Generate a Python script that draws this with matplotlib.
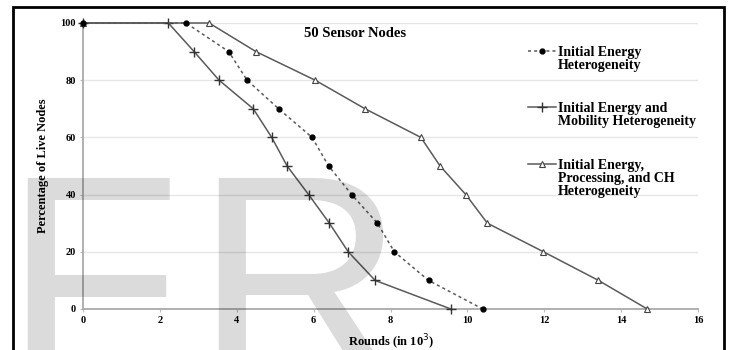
import matplotlib
matplotlib.use("Agg")
import matplotlib.pyplot as plt
from matplotlib.patches import Rectangle

plt.rcParams['font.family'] = ['Liberation Serif', 'DejaVu Serif']

# Data (rounds in 10^3, % live nodes)
pct = [100, 100, 90, 80, 70, 60, 50, 40, 30, 20, 10, 0]

rounds_energy = [0, 2.68, 3.79, 4.27, 5.09, 5.96, 6.39, 6.99, 7.66, 8.10, 8.99, 10.40]
rounds_mobility = [0, 2.22, 2.89, 3.54, 4.43, 4.91, 5.31, 5.87, 6.41, 6.90, 7.60, 9.57]
rounds_processing = [0, 3.28, 4.50, 6.04, 7.34, 8.79, 9.29, 9.96, 10.52, 11.98, 13.41, 14.68]

labels = ["Initial Energy\nHeterogeneity",
          "Initial Energy and\nMobility Heterogeneity",
          "Initial Energy,\nProcessing, and CH\nHeterogeneity"]

xticks = [0, 2, 4, 6, 8, 10, 12, 14, 16]
yticks = [0, 20, 40, 60, 80, 100]

W, H = 730, 350
fig = plt.figure(figsize=(7.3, 3.5), dpi=100)
ax = fig.add_axes([83 / W, 1 - 309 / H, 615 / W, 286 / H])

line_col = '#5a5a5a'
ax.plot(rounds_energy, pct, linestyle=(0, (2, 2)), color=line_col, lw=1.1,
        marker='o', ms=3.5, mfc='black', mec='black', clip_on=False,
        label=labels[0], zorder=6)
ax.plot(rounds_mobility, pct, '-', color=line_col, lw=1.1,
        marker='+', ms=7, mew=1.0, mec='#333333', clip_on=False,
        label=labels[1], zorder=5)
ax.plot(rounds_processing, pct, '-', color=line_col, lw=1.1,
        marker='^', ms=4.5, mfc='white', mec='#444444', mew=0.8, clip_on=False,
        label=labels[2], zorder=4)

ax.set_xlim(0, 16)
ax.set_ylim(0, 100)
ax.set_xticks(xticks)
ax.set_yticks(yticks)
ax.tick_params(labelsize=7.5, length=2, color='#bbbbbb', pad=3)
for t in ax.get_xticklabels() + ax.get_yticklabels():
    t.set_fontweight('bold')
ax.yaxis.grid(True, color='#e6e6e6', lw=1)
ax.set_axisbelow(True)
for s in ['top', 'right']:
    ax.spines[s].set_visible(False)
for s in ['left', 'bottom']:
    ax.spines[s].set_color('#aaaaaa')
    ax.spines[s].set_linewidth(1.3)

ax.set_xlabel('Rounds (in 10$^3$)', fontsize=9, fontweight='bold', labelpad=6)
ax.set_ylabel('Percentage of Live Nodes', fontsize=9, fontweight='bold', labelpad=8)
ax.text(0.442, 0.965, '50 Sensor Nodes', transform=ax.transAxes, fontsize=10.5,
        fontweight='bold', ha='center', va='center')

leg = ax.legend(loc='upper left', bbox_to_anchor=(0.712, 0.945), frameon=False,
                handlelength=2.0, handletextpad=0.15, borderpad=0,
                labelspacing=2.2, prop={'weight': 'bold', 'size': 10})
for t in leg.get_texts():
    t.set_linespacing(1.0)
# put each key on the first line of its label
for col in leg._legend_handle_box.get_children():
    for row in col.get_children():
        row.align = 'top'

# outer frame
fig.patches.append(Rectangle((13 / W, -0.1), 711 / W, 1.1 - 7 / H,
                             transform=fig.transFigure, fill=False,
                             edgecolor='black', lw=2))

# watermark
for ch, xp in [('F', 3), ('R', 194)]:
    fig.text(xp / W, 1 - 378 / H, ch, fontsize=209, family='Liberation Sans',
             color='black', alpha=0.14, ha='left', va='baseline', zorder=5)

fig.savefig('out.png', dpi=100)
